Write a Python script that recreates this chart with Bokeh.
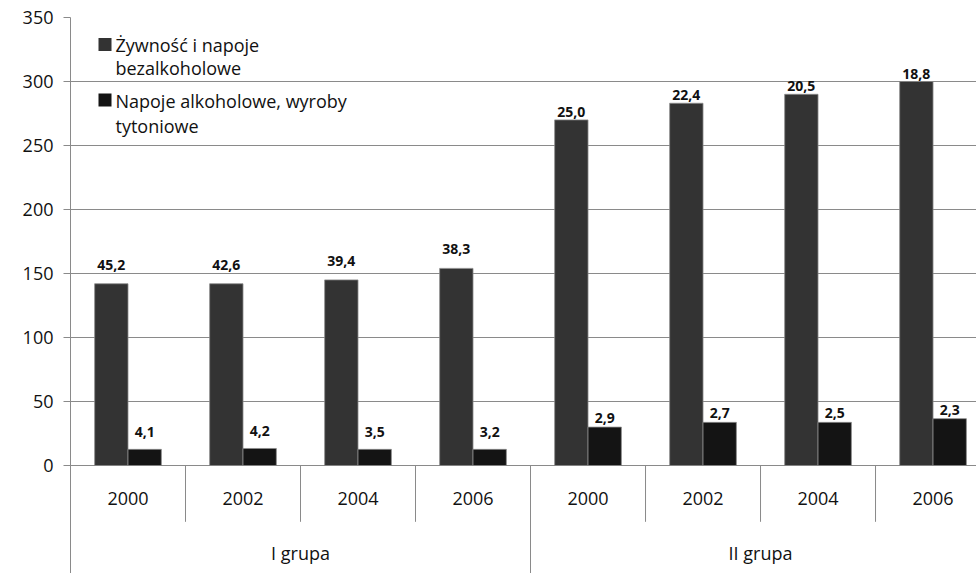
from bokeh.plotting import figure
from bokeh.models import Range1d, FixedTicker, Label, ColumnDataSource
from bokeh.core.properties import value
from bokeh.embed import file_html
from bokeh.resources import INLINE

# ---- data ----
years = ["2000", "2002", "2004", "2006", "2000", "2002", "2004", "2006"]
groups = ["I grupa", "II grupa"]
food = [142, 142, 145, 154, 270, 283, 290, 300]          # Żywność i napoje bezalkoholowe (zł)
alcohol = [12.6, 13.3, 12.6, 12.6, 30, 33.7, 33.7, 36.6]  # Napoje alkoholowe, wyroby tytoniowe (zł)
food_share = ["45,2", "42,6", "39,4", "38,3", "25,0", "22,4", "20,5", "18,8"]
alcohol_share = ["4,1", "4,2", "3,5", "3,2", "2,9", "2,7", "2,5", "2,3"]
series_names = ["Żywność i napoje\nbezalkoholowe", "Napoje alkoholowe, wyroby\ntytoniowe"]
y_ticks = [0, 50, 100, 150, 200, 250, 300, 350]

FONT = "Open Sans"
C_FOOD = "#333333"
C_ALC = "#141414"
GRID = "#8a8a8a"

n = len(years)
PX = 1.28  # px per unit on y
Y_MIN = 350 - 556 / PX

p = figure(width=976, height=573, output_backend="svg", toolbar_location=None,
           x_range=Range1d(0, 7.878), y_range=Range1d(Y_MIN, 350),
           x_axis_location=None, min_border_left=70, min_border_top=17,
           min_border_right=0, min_border_bottom=0)
p.outline_line_color = None
p.background_fill_color = "white"
p.xgrid.visible = False
p.ygrid.ticker = FixedTicker(ticks=y_ticks)
p.ygrid.grid_line_color = GRID
p.ygrid.grid_line_width = 1.2
p.yaxis.ticker = FixedTicker(ticks=y_ticks)
p.yaxis.axis_line_color = GRID
p.yaxis.major_tick_line_color = GRID
p.yaxis.major_tick_out = 7
p.yaxis.major_tick_in = 0
p.yaxis.minor_tick_line_color = None
p.yaxis.major_label_standoff = 10
p.yaxis.major_label_text_font = FONT
p.yaxis.major_label_text_font_size = "18px"
p.yaxis.major_label_text_color = "#111111"

xs = [i + 0.5 for i in range(n)]
BW = 0.29
src = ColumnDataSource(dict(
    xf=[x - BW / 2 for x in xs], xa=[x + BW / 2 for x in xs],
    food=food, alcohol=alcohol,
    yf_lab=[v + (19 if i < 4 else 8) / PX for i, v in enumerate(food)],
    ya_lab=[v + (17 if i < 4 else 9) / PX for i, v in enumerate(alcohol)],
    food_share=food_share, alcohol_share=alcohol_share,
))
p.vbar(x="xf", top="food", bottom=0, width=BW, source=src,
       fill_color=C_FOOD, line_color="#8c8c8c", line_width=0.8)
p.vbar(x="xa", top="alcohol", bottom=0, width=BW, source=src,
       fill_color=C_ALC, line_color="#8c8c8c", line_width=0.8)

p.text(x="xf", y="yf_lab", text="food_share", source=src, text_align="center",
       text_baseline="middle", text_font=value(FONT), text_font_size="14px",
       text_font_style="bold", text_color="#111111")
p.text(x="xa", y="ya_lab", text="alcohol_share", source=src, text_align="center",
       text_baseline="middle", text_font=value(FONT), text_font_size="14px",
       text_font_style="bold", text_color="#111111")

# category axis (two levels)
p.segment(x0=list(range(1, n)), y0=[0] * (n - 1), x1=list(range(1, n)),
          y1=[-44] * (n - 1), line_color=GRID, line_width=1)
p.segment(x0=[4], y0=[0], x1=[4], y1=[Y_MIN], line_color=GRID, line_width=1)
p.text(x=xs, y=[-25.4] * n, text=years, text_align="center", text_baseline="middle",
       text_font=value(FONT), text_font_size="18px", text_color="#111111")
p.text(x=[2, 6], y=[-68.7, -68.7], text=groups, text_align="center",
       text_baseline="middle", text_font=value(FONT), text_font_size="18px",
       text_color="#111111")

# legend
p.scatter(x=[0.3, 0.3], y=[328.9, 285.5], marker="square", size=13,
          fill_color=[C_FOOD, C_ALC], line_color=None)
leg_lines = [series_names[0].split("\n"), series_names[1].split("\n")]
p.text(x=[0.391] * 4, y=[328.9, 310.2, 284.4, 265.6],
       text=leg_lines[0] + leg_lines[1], text_align="left", text_baseline="middle",
       text_font=value(FONT), text_font_size="18px", text_color="#111111")

p.add_layout(Label(x=-0.383, y=169.5, text="w zł", text_align="center",
                   text_baseline="middle", text_font=FONT, text_font_size="18px",
                   text_color="#111111"))

open("out.html", "w").write(file_html(p, INLINE))
